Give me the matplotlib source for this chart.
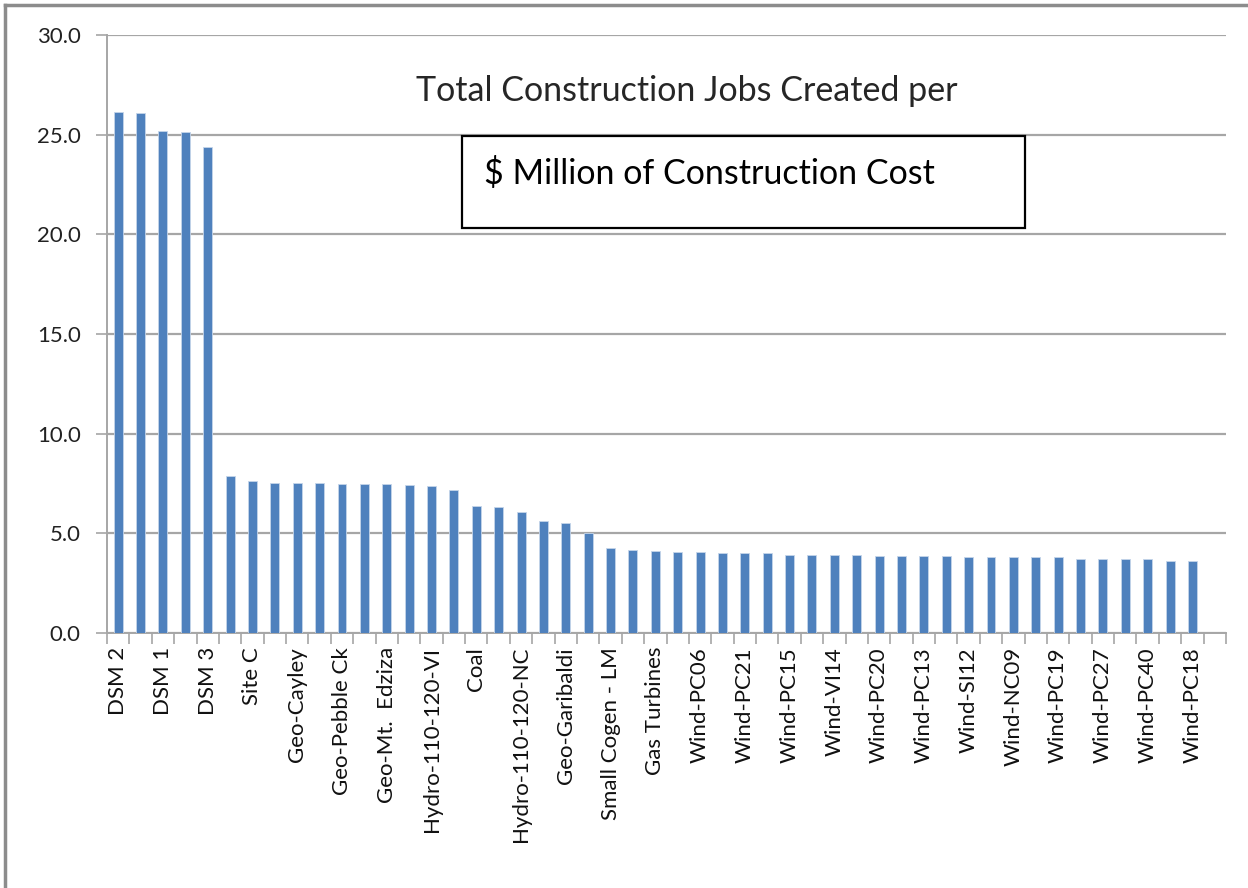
import matplotlib
matplotlib.use("Agg")
import matplotlib.pyplot as plt
from matplotlib.lines import Line2D
from matplotlib.patches import Rectangle

plt.rcParams['font.family'] = ['Lato', 'DejaVu Sans']

# Data (49 bars; labels shown on every other bar as in the original)
values = [26.15, 26.10, 25.18, 25.13, 24.38, 7.86, 7.61, 7.54, 7.54, 7.54,
          7.47, 7.47, 7.47, 7.42, 7.36, 7.17, 6.38, 6.30, 6.05, 5.60,
          5.52, 5.00, 4.25, 4.18, 4.11, 4.06, 4.06, 3.99, 3.99, 3.99,
          3.91, 3.91, 3.91, 3.91, 3.86, 3.86, 3.86, 3.86, 3.81, 3.81,
          3.81, 3.81, 3.81, 3.73, 3.73, 3.73, 3.73, 3.60, 3.60]
shown_labels = ["DSM 2", "DSM 1", "DSM 3", "Site C", "Geo-Cayley", "Geo-Pebble Ck",
                "Geo-Mt.  Edziza", "Hydro-110-120-VI", "Coal", "Hydro-110-120-NC",
                "Geo-Garibaldi", "Small Cogen - LM", "Gas Turbines", "Wind-PC06",
                "Wind-PC21", "Wind-PC15", "Wind-VI14", "Wind-PC20", "Wind-PC13",
                "Wind-SI12", "Wind-NC09", "Wind-PC19", "Wind-PC27", "Wind-PC40",
                "Wind-PC18"]
n_slots = 50
yticks = [0, 5, 10, 15, 20, 25, 30]
title_line1 = "Total Construction Jobs Created per"
title_line2 = "\\$ Million of Construction Cost"

W, H = 1248, 888
fig = plt.figure(figsize=(W / 100, H / 100), dpi=100)
ax = fig.add_axes([107 / W, 1 - 633 / H, (1226 - 107) / W, (633 - 35) / H])

grid_c = "#a6a6a6"
bar_c = "#4f81bd"

x = list(range(len(values)))
ax.bar(x, values, width=0.4, color=bar_c, edgecolor="#c5d5ea", linewidth=0.6, zorder=3)

ax.set_xlim(-0.5, n_slots - 0.5)
ax.set_ylim(0, 30)
ax.set_yticks(yticks)
ax.set_yticklabels([f"{v:.1f}" for v in yticks], fontsize=16, color="#222222")
ax.yaxis.grid(True, color=grid_c, linewidth=1.6, zorder=0)
ax.set_axisbelow(True)

# x ticks: tick marks at slot boundaries, labels on every other bar
ax.set_xticks([i - 0.5 for i in range(n_slots + 1)])
ax.set_xticklabels([])
ax.tick_params(axis="x", which="major", length=8, width=1.2, color=grid_c)
ax.set_xticks(list(range(0, len(shown_labels) * 2, 2)), minor=True)
ax.set_xticklabels(shown_labels, minor=True, rotation=90, fontsize=16, color="#111111")
ax.tick_params(axis="x", which="minor", length=0, pad=10)
ax.tick_params(axis="y", length=8, width=1.2, color=grid_c, pad=11)

for s in ["top", "right"]:
    ax.spines[s].set_visible(False)
for s in ["left", "bottom"]:
    ax.spines[s].set_color(grid_c)
    ax.spines[s].set_linewidth(1.4)

# Title texts
fig.text(687 / W, 1 - 91 / H, title_line1, ha="center", va="center",
         fontsize=24.5, color="#262626")
fig.patches.append(Rectangle((462 / W, 1 - 228 / H), (1025 - 462) / W, (228 - 136) / H,
                             transform=fig.transFigure, facecolor="white",
                             edgecolor="black", linewidth=1.6, zorder=5))
fig.text(484 / W, 1 - 173 / H, title_line2, ha="left", va="center",
         fontsize=24.5, color="black", zorder=6)

# Outer chart frame (top and left edges visible)
fig.lines.append(Line2D([5 / W, 1.0], [1 - 5 / H, 1 - 5 / H], transform=fig.transFigure,
                        color="#8c8c8c", linewidth=2.5))
fig.lines.append(Line2D([5 / W, 5 / W], [1 - 5 / H, 0.0], transform=fig.transFigure,
                        color="#8c8c8c", linewidth=2.5))

fig.savefig("out.png", dpi=100)
